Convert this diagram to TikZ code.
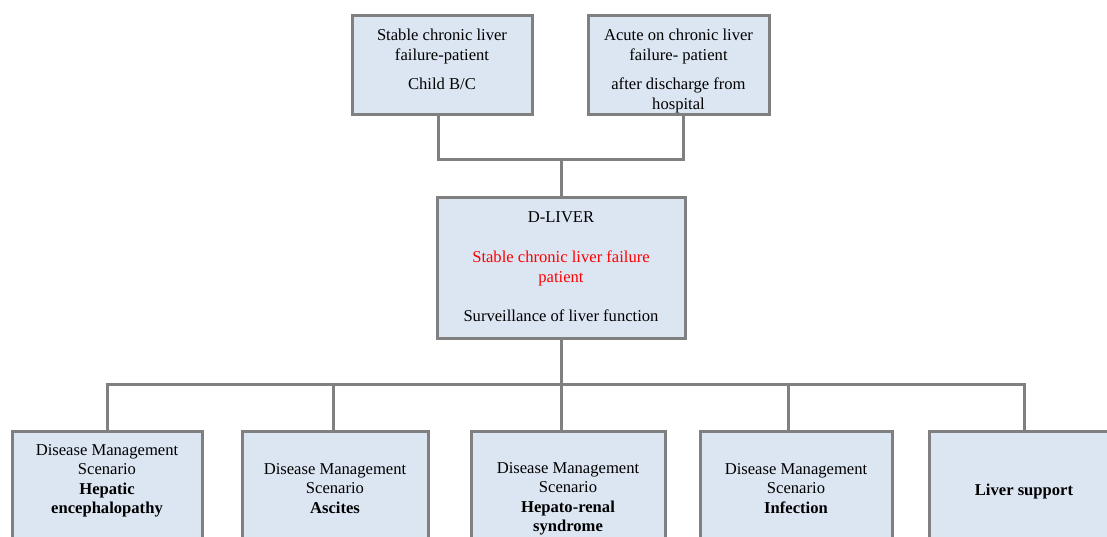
\documentclass[tikz,border=0pt]{standalone}
\usepackage{fontspec}
\setmainfont{Liberation Serif}
\definecolor{boxfill}{HTML}{DCE6F2}
\definecolor{linegray}{HTML}{808080}
\begin{document}
\begin{tikzpicture}[x=1pt,y=-1pt,
  box/.style={draw=linegray, line width=3pt, fill=boxfill, anchor=north west,
    inner sep=0pt, outer sep=0pt, minimum height=#1},
  box/.default=99,
  conn/.style={draw=linegray, line width=3pt},
  txt/.style={anchor=north, inner sep=0pt, align=center,
    font=\fontsize{16.6}{20}\selectfont},
  stxt/.style={txt, font=\fontsize{16.6}{19.2}\selectfont}]
\useasboundingbox (0,0) rectangle (1107,537);
\clip (0,0) rectangle (1107,537);

% top row: the two kinds of incoming patient
\node[box, minimum width=180] (tl) at (352,16) {};
\node[box, minimum width=181] (tr) at (588,16) {};
% central platform
\node[box=140, minimum width=248] (dl) at (437,198) {};
% bottom row: disease management scenarios
\node[box=150, minimum width=190] (b1) at (12,431) {};
\node[box=150, minimum width=186] (b2) at (242,431) {};
\node[box=150, minimum width=194] (b3) at (471,431) {};
\node[box=150, minimum width=192] (b4) at (700,431) {};
\node[box=150, minimum width=190] (b5) at (929,431) {};

% texts
\node[txt] (tlt) at (442,28.5) {Stable chronic liver\\failure-patient\\[9pt]Child B/C};
\node[txt] (trt) at (678.5,28.5) {Acute on chronic liver\\failure- patient\\[9pt]after discharge from\\hospital};
\node[txt] (dlt1) at (561,211.5) {D-LIVER};
\node[txt, text=red] (dlt2) at (561,250.5) {Stable chronic liver failure\\patient};
\node[txt] (dlt3) at (561,309.5) {Surveillance of liver function};
\node[stxt] (b1t) at (107,444.5) {Disease Management\\Scenario\\\textbf{Hepatic}\\\textbf{encephalopathy}};
\node[stxt] (b2t) at (335,463.5) {Disease Management\\Scenario\\\textbf{Ascites}};
\node[stxt] (b3t) at (568,462.5) {Disease Management\\Scenario\\\textbf{Hepato-renal}\\\textbf{syndrome}};
\node[stxt] (b4t) at (796,463.5) {Disease Management\\Scenario\\\textbf{Infection}};
\node[stxt] (b5t) at (1024,483.5) {\textbf{Liver support}};

% connectors
\coordinate (jtop) at (561,160);
\coordinate (jbot) at (561,384);
\draw[conn] ([xshift=-4pt]tl.south) |- (jtop) -| ([xshift=4.5pt]tr.south);
\draw[conn] (jtop) -- (dl.north);
\draw[conn] (dl.south) -- (jbot);
\draw[conn] (b1.north) |- (jbot) -| (b5.north);
\draw[conn] ([xshift=-2pt]b2.north) -- ([xshift=-2pt]b2.north |- jbot);
\draw[conn] ([xshift=-7pt]b3.north) -- ([xshift=-7pt]b3.north |- jbot);
\draw[conn] ([xshift=-8pt]b4.north) -- ([xshift=-8pt]b4.north |- jbot);
\end{tikzpicture}
\end{document}
